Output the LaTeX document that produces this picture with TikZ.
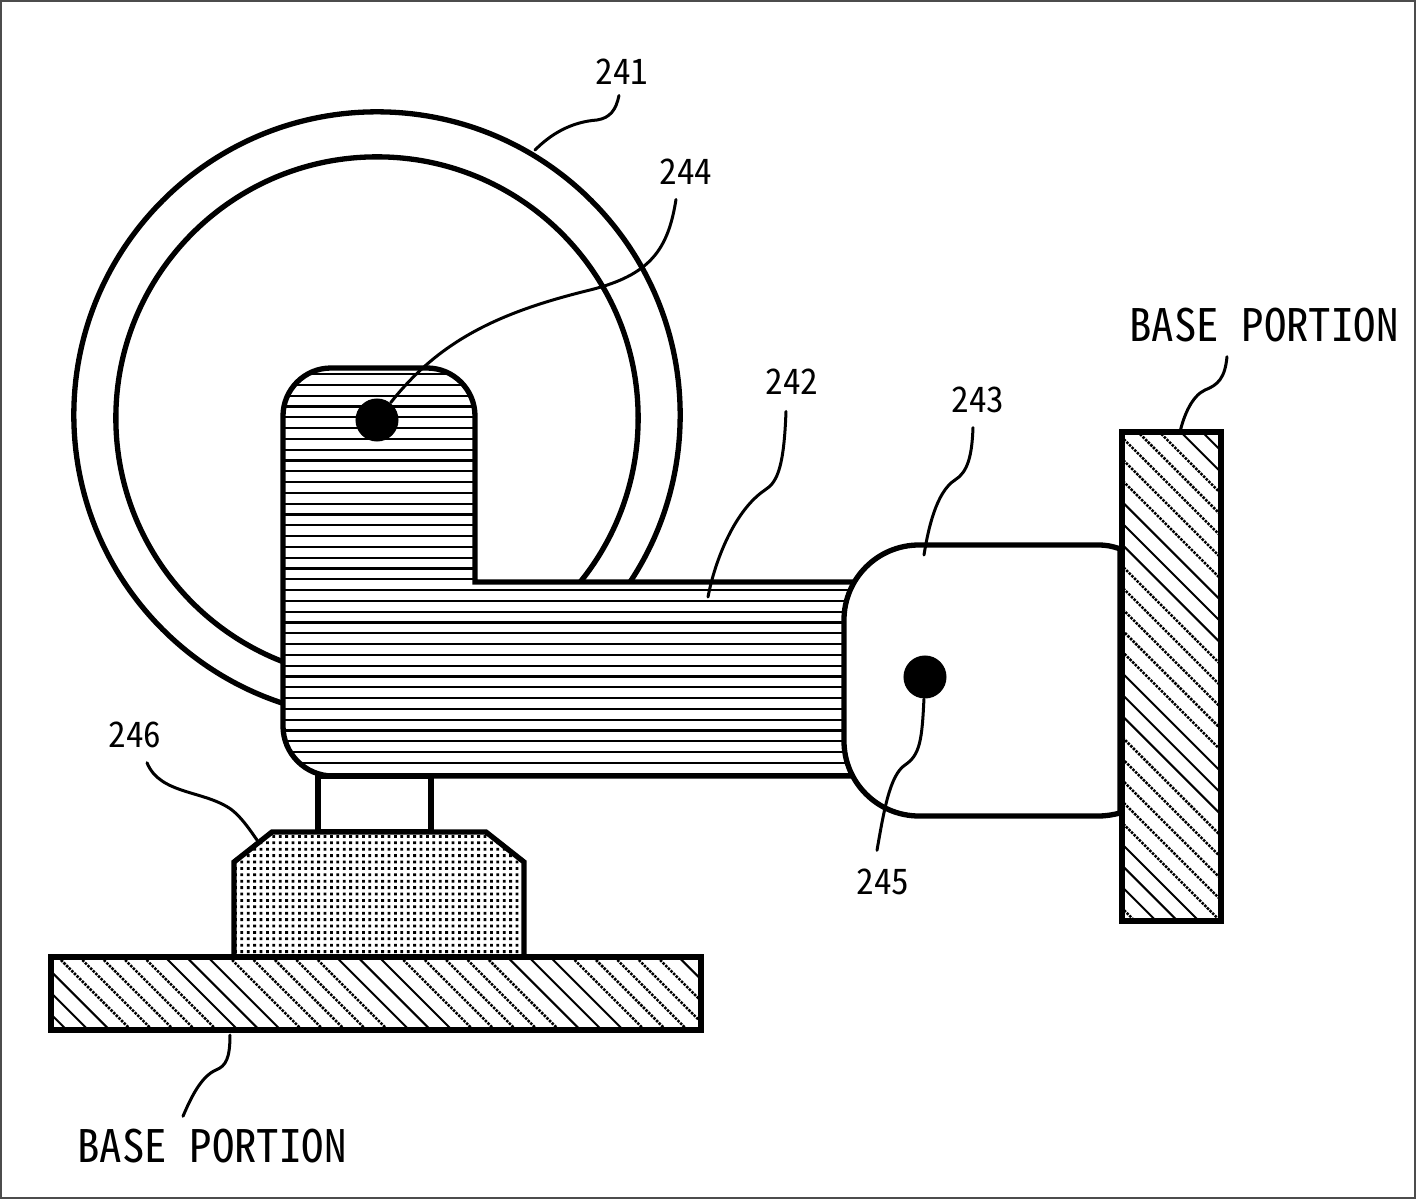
\documentclass[tikz,border=0pt]{standalone}
\usepackage{fontspec}
\usepackage{tikz}
\newfontfamily\gothic[RawFeature=+hwid]{Noto Sans CJK JP}
\def\armpath{(283,640) [rounded corners=.48cm] -- (283,368) -- (475,368) [sharp corners] -- (475,582) -- (900,582) -- (900,776) [rounded corners=.5cm] -- (283,776) -- cycle}
\def\holderpath{(1120,549) .. controls (1112,546) and (1106,545) .. (1098,545) [rounded corners=.75cm] -- (844,545) -- (844,816) [sharp corners] -- (1098,816) .. controls (1106,816) and (1112,815) .. (1120,813) -- cycle}
\def\footpath{(234,862) -- (272,832) -- (486,832) -- (524,862) -- (524,957) -- (234,957) -- cycle}
\newcommand{\hatchbox}[6]{
	\begin{scope}
		\clip (#1,#2) rectangle (#3,#4);
		\foreach \n in {#5,...,#6} {
			\pgfmathtruncatemacro{\m}{mod(\n+800,8)}
			\pgfmathsetmacro{\c}{-899+21.4*\n}
			\ifnum\m<5
				\draw[hatchfuzzy] (\c+400,400) -- (\c+1050,1050);
			\else
				\draw[hatchline] (\c+400,400) -- (\c+1050,1050);
			\fi
		}
	\end{scope}
	\draw[part] (#1,#2) rectangle (#3,#4);
}
\tikzset{
	part/.style={line width=.053cm,line join=miter},
	lead/.style={line width=.03cm,line cap=round},
	hatchline/.style={line width=.02cm},
	hatchfuzzy/.style={line width=.025cm,dash pattern=on .025cm off .012cm},
	stripe/.style={line width=.022cm},
	num/.style={font=\gothic\fontsize{10}{12}\selectfont,inner sep=0pt},
	word/.style={font=\gothic\fontsize{12.75}{15}\selectfont,inner sep=0pt},
	pin/.style={circle,fill=black,inner sep=0pt,minimum size=.43cm}
}
\begin{document}
\begin{tikzpicture}[x=.01cm,y=-.01cm]
	\useasboundingbox (0,0) rectangle (1417,1200);
	\fill[white] (0,0) rectangle (1417,1200);
	\draw[line width=.012cm,black!70] (1,1) rectangle (1415,1198);
	% wheel
	\draw[part] (377,415) circle (3.03cm);
	\draw[part] (377,418) circle (2.61cm);
	% stem and foot
	\draw[part] (318,776) rectangle (431,832);
	\begin{scope}
		\clip \footpath;
		\fill[white] (230,830) rectangle (530,960);
		\fill[black] foreach \i in {0,...,47} { foreach \j in {0,...,20} {
			(234+6.4*\i,835+6.4*\j) rectangle ++(2.8,2.8) } };
	\end{scope}
	\draw[part] \footpath;
	% arm
	\fill[white] \armpath;
	\begin{scope}
		\clip \armpath;
		\foreach \k in {0,...,37} {
			\draw[stripe] (280,374+10.8*\k) -- (900,374+10.8*\k);
		}
	\end{scope}
	\draw[part] \armpath;
	% holder
	\fill[white] \holderpath;
	\draw[part] \holderpath;
	% bases
	\hatchbox{51}{957}{701}{1030}{-4}{34}
	\hatchbox{1122}{432}{1221}{921}{50}{82}
	% pins
	\node[pin] (pinwheel) at (377,420) {};
	\node[pin] (pinholder) at (925,677) {};
	% labels
	\node[num] (n241) at (622,72) {241};
	\node[num] (n244) at (686,172) {244};
	\node[num] (n242) at (792,382) {242};
	\node[num] (n243) at (978,400) {243};
	\node[num] (n245) at (883,882) {245};
	\node[num] (n246) at (135,735) {246};
	\node[word] (baseright) at (1264,325) {BASE PORTION};
	\node[word] (basebottom) at (212,1146) {BASE PORTION};
	% leader ends
	\coordinate (e241) at (535,150);
	\coordinate (e242) at (708,597);
	\coordinate (e243) at (924,555);
	\coordinate (e246) at (257,840);
	\coordinate (ebaseright) at (1180,432);
	\coordinate (ebasebottom) at (230,1035);
	% leaders
	\draw[lead] ([shift={(-3,10)}]n241.south) .. controls (616,110) and (610,118) .. (597,120) .. controls (570,122) and (550,135) .. (e241);
	\draw[lead] ([shift={(-10,14)}]n244.south) .. controls (668,250) and (650,275) .. (590,290) .. controls (500,312) and (440,340) .. (pinwheel);
	\draw[lead] ([shift={(-6,16)}]n242.south) .. controls (784,465) and (778,482) .. (765,490) .. controls (735,510) and (715,560) .. (e242);
	\draw[lead] ([shift={(-5,14)}]n243.south) .. controls (972,455) and (968,472) .. (955,480) .. controls (936,492) and (928,530) .. (e243);
	\draw[lead] (pinholder) .. controls (922,740) and (920,755) .. (905,765) .. controls (890,775) and (884,810) .. ([shift={(-6,-18)}]n245.north);
	\draw[lead] ([shift={(12,14)}]n246.south) .. controls (160,795) and (205,790) .. (232,810) .. controls (242,818) and (250,830) .. (e246);
	\draw[lead] ([shift={(-37,14)}]baseright.south) .. controls (1225,378) and (1218,385) .. (1205,390) .. controls (1192,396) and (1184,415) .. (ebaseright);
	\draw[lead] (ebasebottom) .. controls (230,1058) and (226,1066) .. (216,1070) .. controls (202,1076) and (192,1095) .. ([shift={(-29,-12)}]basebottom.north);
\end{tikzpicture}
\end{document}
